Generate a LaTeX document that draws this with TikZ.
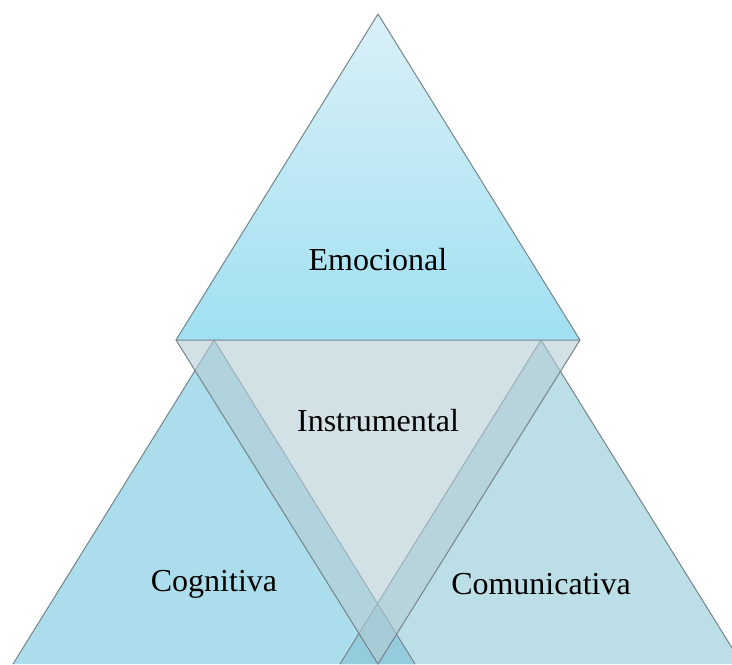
\documentclass[tikz,border=0pt]{standalone}
\usepackage{fontspec}
\setmainfont{Liberation Serif}
\definecolor{emoTop}{RGB}{218,240,247}
\definecolor{emoBot}{RGB}{160,224,242}
\definecolor{cogFill}{RGB}{172,221,236}
\definecolor{comFill}{RGB}{188,222,231}
\definecolor{bothFill}{RGB}{148,204,222}
\definecolor{insFill}{RGB}{180,205,213}
\definecolor{edgeGray}{RGB}{118,132,138}
\begin{document}
\begin{tikzpicture}[x=0.5pt,y=-0.5pt,
    side/.style={draw=edgeGray, line width=0.5pt, line join=round},
    lbl/.style={font=\fontsize{16}{19}\selectfont, inner sep=0pt}]
  \useasboundingbox (0,0) rectangle (732,664);
  \clip (0,0) rectangle (732,664);
  % corners
  \coordinate (emoApex) at (378,14);
  \coordinate (baseL) at (176,340);
  \coordinate (baseR) at (580,340);
  \coordinate (insTip) at (378,664);
  \coordinate (cogApex) at (214,340);
  \coordinate (comApex) at (541,340);
  \coordinate (cross) at (377.5,603.5);
  % lower triangles
  \fill[cogFill] (cogApex) -- (13,664) -- (415,664) -- cycle;
  \fill[comFill] (comApex) -- (340,664) -- (742,664) -- cycle;
  \fill[bothFill] (cross) -- (415,664) -- (340,664) -- cycle;
  \draw[side] (cogApex) -- (13,664) (cogApex) -- (415,664);
  \draw[side] (comApex) -- (340,664) (comApex) -- (742,664);
  % middle one
  \fill[insFill, opacity=0.6] (baseL) -- (baseR) -- (insTip) -- cycle;
  \draw[side] (baseL) -- (insTip) -- (baseR);
  % top one
  \shade[top color=emoTop, bottom color=emoBot] (emoApex) -- (baseR) -- (baseL) -- cycle;
  \draw[side] (emoApex) -- (baseR) -- (baseL) -- cycle;
  \node[lbl] (emo) at (378,260) {Emocional};
  \node[lbl] (ins) at (378,421) {Instrumental};
  \node[lbl] (cog) at (214,584) {Cognitiva};
  \node[lbl] (com) at (541,584) {Comunicativa};
\end{tikzpicture}
\end{document}
